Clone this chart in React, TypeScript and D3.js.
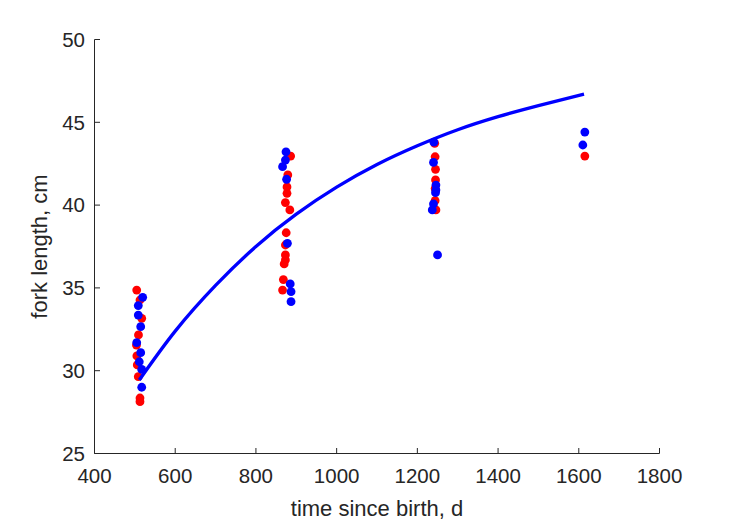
import React from "react";
import * as d3 from "d3";

const W = 729;
const H = 521;

// observations: [time since birth (d), fork length (cm)]
const redPoints: [number, number][] = [
  [504.6, 34.87], [512.7, 34.27], [517, 33.16], [509, 32.16], [504, 31.55],
  [505, 30.89], [506, 30.35], [508.5, 29.64], [512.7, 28.35], [512.7, 28.13],
  [886, 42.96], [879, 41.82], [877, 41.1], [877, 40.71], [873, 40.15],
  [884, 39.71], [875, 38.33], [873, 37.59], [873, 36.99], [873, 36.69],
  [870, 36.45], [868, 35.5], [866, 34.87],
  [1243, 43.73], [1244, 42.92], [1245, 42.16], [1245, 41.52], [1244, 41.0],
  [1244, 40.27], [1246, 39.71],
  [1615, 42.96],
];

const bluePoints: [number, number][] = [
  [519.4, 34.43], [508.5, 33.93], [508.5, 33.36], [514.5, 32.66], [504.6, 31.69],
  [514.5, 31.09], [511, 30.54], [517, 30.08], [517, 29.0],
  [874.5, 43.22], [873, 42.72], [866, 42.32], [876, 41.56], [878, 37.69],
  [885, 35.24], [887, 34.77], [887, 34.17],
  [1241, 43.8], [1240, 42.58], [1246, 41.21], [1246, 40.91], [1245, 40.75],
  [1240, 40.07], [1237, 39.71], [1250, 36.99],
  [1615, 44.41], [1610, 43.63],
];

// fitted growth curve
const curveT = [511, 600, 700, 800, 900, 1000, 1100, 1200, 1300, 1400, 1500, 1613];
const curveL = [29.44, 32.39, 35.15, 37.5, 39.45, 41.08, 42.45, 43.58, 44.55, 45.34, 46.01, 46.7];

const xTicks = [400, 600, 800, 1000, 1200, 1400, 1600, 1800];
const yTicks = [25, 30, 35, 40, 45, 50];

const xLabel = "time since birth, d";
const yLabel = "fork length, cm";

export default function App() {
  const x = d3.scaleLinear().domain([400, 1800]).range([94.5, 659.5]);
  const y = d3.scaleLinear().domain([25, 50]).range([453.5, 39.5]);
  const line = d3
    .line<number>()
    .x((_, i) => x(curveT[i]))
    .y((d) => y(d))
    .curve(d3.curveNatural);
  const axisColor = "#262626";
  const font = "'Liberation Sans', Arial, Helvetica, sans-serif";
  const fs = 20.5;
  const r = 4.4;
  return (
    <svg
      width={W}
      height={H}
      style={{ position: "absolute", left: 0, top: 0, background: "#fff" }}
      fontFamily={font}
    >
      <rect width={W} height={H} fill="#fff" />
      {redPoints.map((p, i) => (
        <circle key={"r" + i} cx={x(p[0])} cy={y(p[1])} r={r} fill="#ff0000" />
      ))}
      {bluePoints.map((p, i) => (
        <circle key={"b" + i} cx={x(p[0])} cy={y(p[1])} r={r} fill="#0000ff" />
      ))}
      <path d={line(curveL) || ""} fill="none" stroke="#0000ff" strokeWidth={3.3} />
      {/* axes */}
      <line x1={x(400)} x2={x(1800)} y1={y(25)} y2={y(25)} stroke={axisColor} strokeWidth={1} />
      <line x1={x(400)} x2={x(400)} y1={y(25)} y2={y(50)} stroke={axisColor} strokeWidth={1} />
      {xTicks.map((t) => (
        <g key={"xt" + t}>
          <line x1={x(t)} x2={x(t)} y1={y(25)} y2={y(25) - 5.5} stroke={axisColor} />
          <text x={x(t)} y={483} textAnchor="middle" fontSize={fs} fill={axisColor}>
            {t}
          </text>
        </g>
      ))}
      {yTicks.map((t) => (
        <g key={"yt" + t}>
          <line x1={x(400)} x2={x(400) + 5.5} y1={y(t)} y2={y(t)} stroke={axisColor} />
          <text x={85} y={y(t) + 7.2} textAnchor="end" fontSize={fs} fill={axisColor}>
            {t}
          </text>
        </g>
      ))}
      <text x={377} y={516} textAnchor="middle" fontSize={22} fill={axisColor}>
        {xLabel}
      </text>
      <text
        transform={`translate(47,246.5) rotate(-90)`}
        textAnchor="middle"
        fontSize={22}
        fill={axisColor}
      >
        {yLabel}
      </text>
    </svg>
  );
}
